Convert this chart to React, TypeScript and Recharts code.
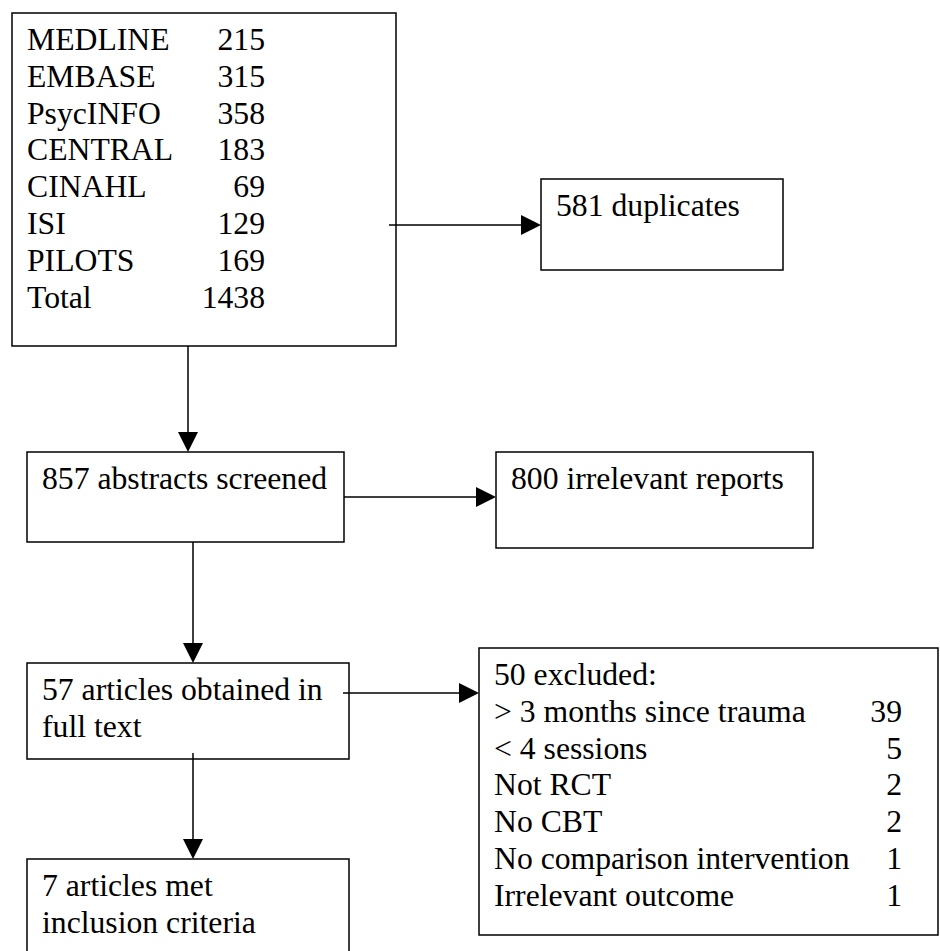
import { ComposedChart, XAxis, YAxis, ReferenceArea, ReferenceLine } from "recharts";

// search results per database
const sourceNames = ["MEDLINE", "EMBASE", "PsycINFO", "CENTRAL", "CINAHL", "ISI", "PILOTS", "Total"];
const sourceCounts = [215, 315, 358, 183, 69, 129, 169, 1438];

// reasons for exclusion after full-text reading
const exclusionReasons = [
  "> 3 months since trauma",
  "< 4 sessions",
  "Not RCT",
  "No CBT",
  "No comparison intervention",
  "Irrelevant outcome",
];
const exclusionCounts = [39, 5, 2, 2, 1, 1];

const duplicateCount = 581;
const screenedCount = 857;
const irrelevantCount = 800;
const fullTextCount = 57;
const excludedCount = 50;
const includedCount = 7;

type Row = { label: string; value?: number };

type FlowNode = {
  id: string;
  rows: Row[];
  // box corners in chart units (1 unit = 1px here)
  x1: number;
  x2: number;
  y1: number;
  y2: number;
  valueRight?: number;
};

const nodes: FlowNode[] = [
  {
    id: "sources",
    rows: sourceNames.map((label, i) => ({ label, value: sourceCounts[i] })),
    x1: 12, x2: 396, y1: 13, y2: 346,
    valueRight: 253,
  },
  {
    id: "duplicates",
    rows: [{ label: `${duplicateCount} duplicates` }],
    x1: 541, x2: 783, y1: 179, y2: 270,
  },
  {
    id: "screened",
    rows: [{ label: `${screenedCount} abstracts screened` }],
    x1: 27, x2: 344, y1: 452, y2: 542,
  },
  {
    id: "irrelevant",
    rows: [{ label: `${irrelevantCount} irrelevant reports` }],
    x1: 496, x2: 813, y1: 452, y2: 548,
  },
  {
    id: "fulltext",
    rows: [{ label: `${fullTextCount} articles obtained in` }, { label: "full text" }],
    x1: 27, x2: 349, y1: 663, y2: 759,
  },
  {
    id: "excluded",
    rows: [
      { label: `${excludedCount} excluded:` },
      ...exclusionReasons.map((label, i) => ({ label, value: exclusionCounts[i] })),
    ],
    x1: 479, x2: 938, y1: 648, y2: 935,
    valueRight: 423,
  },
  {
    id: "included",
    rows: [{ label: `${includedCount} articles met` }, { label: "inclusion criteria" }],
    x1: 27, x2: 349, y1: 859, y2: 990,
  },
];

const arrows = [
  { from: { x: 389, y: 225 }, to: { x: 541, y: 225 } },
  { from: { x: 188, y: 346 }, to: { x: 188, y: 452 } },
  { from: { x: 344, y: 497 }, to: { x: 496, y: 497 } },
  { from: { x: 193, y: 542 }, to: { x: 193, y: 663 } },
  { from: { x: 343, y: 693 }, to: { x: 479, y: 693 } },
  { from: { x: 193, y: 753 }, to: { x: 193, y: 859 } },
];

const textStyle = {
  fontFamily: "'Liberation Serif', 'Times New Roman', 'DejaVu Serif', serif",
  fontSize: 31.7,
  fill: "#000",
};
const LINE_STEP = 36.8;
const PAD_X = 15;
const FIRST_BASELINE = 37;

function boxShape(node: FlowNode) {
  return (props: any) => {
    const { x, y, width, height } = props;
    return (
      <g>
        <rect x={x} y={y} width={width} height={height} fill="none" stroke="#000" strokeWidth={1.5} />
        {node.rows.map((row, i) => {
          const by = y + FIRST_BASELINE + i * LINE_STEP;
          return (
            <g key={i}>
              <text x={x + PAD_X} y={by} style={textStyle}>
                {row.label}
              </text>
              {row.value !== undefined && node.valueRight !== undefined && (
                <text x={x + node.valueRight} y={by} style={textStyle} textAnchor="end">
                  {row.value}
                </text>
              )}
            </g>
          );
        })}
      </g>
    );
  };
}

function arrowShape(props: any) {
  const { x1, y1, x2, y2 } = props;
  const len = Math.hypot(x2 - x1, y2 - y1) || 1;
  const ux = (x2 - x1) / len;
  const uy = (y2 - y1) / len;
  const head = 20;
  const half = 10;
  const bx = x2 - ux * head;
  const by = y2 - uy * head;
  const pts = `${x2},${y2} ${bx - uy * half},${by + ux * half} ${bx + uy * half},${by - ux * half}`;
  return (
    <g>
      <line x1={x1} y1={y1} x2={bx} y2={by} stroke="#000" strokeWidth={1.5} />
      <polygon points={pts} fill="#000" />
    </g>
  );
}

export default function App() {
  return (
    <div style={{ position: "absolute", left: 0, top: 0, width: 940, height: 951, background: "#fff" }}>
      <ComposedChart width={940} height={951} margin={{ top: 0, right: 0, bottom: 0, left: 0 }}>
        <XAxis type="number" dataKey="x" domain={[0, 940]} hide allowDataOverflow />
        <YAxis type="number" dataKey="y" domain={[0, 951]} reversed hide allowDataOverflow />
        {nodes.map((n) => (
          <ReferenceArea
            key={n.id}
            x1={n.x1}
            x2={n.x2}
            y1={n.y1}
            y2={n.y2}
            ifOverflow="visible"
            shape={boxShape(n)}
          />
        ))}
        {arrows.map((a, i) => (
          <ReferenceLine key={i} segment={[a.from, a.to]} ifOverflow="visible" shape={arrowShape} />
        ))}
      </ComposedChart>
    </div>
  );
}
